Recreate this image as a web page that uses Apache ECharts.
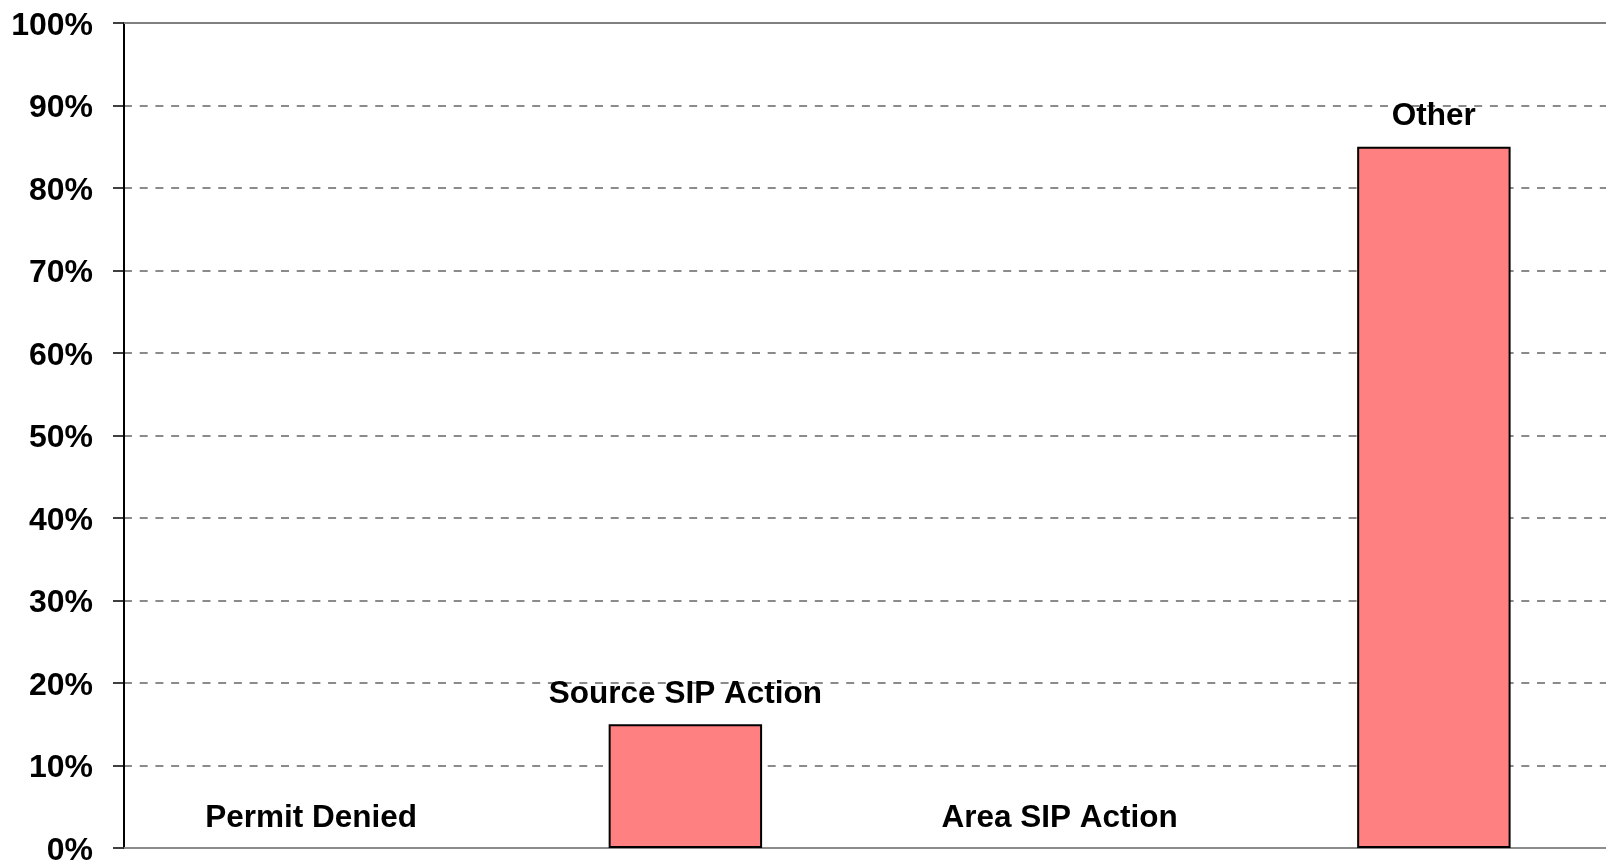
<!DOCTYPE html>
<html>
<head>
<meta charset="utf-8">
<script src="https://cdn.jsdelivr.net/npm/echarts@6/dist/echarts.min.js"></script>
<style>
  html, body { margin: 0; padding: 0; background: #fff; }
  #chart { width: 1606px; height: 863px; }
</style>
</head>
<body>
<div id="chart"></div>
<script>
// categories and share values (percent)
var categories = ['Permit Denied', 'Source SIP Action', 'Area SIP Action', 'Other'];
var shares = [0, 15, 0, 85];
var yTicks = [0, 10, 20, 30, 40, 50, 60, 70, 80, 90, 100];

var chartDom = document.getElementById('chart');
var myChart = echarts.init(chartDom, null, { renderer: 'canvas' });

var font = 'Arial, "Liberation Sans", sans-serif';

// empty bars get no outline, like the original
var barData = shares.map(function (v) {
    return { value: v, itemStyle: { borderWidth: v ? 2 : 0 } };
});

var option = {
    animation: false,
    grid: {
        left: 124,
        right: -15,
        top: 23,
        bottom: 15,
        containLabel: false,
        outerBoundsMode: 'none'
    },
    xAxis: [
        {
            type: 'category',
            data: categories,
            axisLine: { show: true, lineStyle: { color: '#8c8c8c', width: 2 } },
            axisTick: { show: false },
            axisLabel: { show: false },
            splitLine: { show: false }
        },
        {
            // top border of the plot (the 100% line is solid)
            type: 'category',
            position: 'top',
            data: categories,
            axisLine: { show: true, lineStyle: { color: '#808080', width: 2 } },
            axisTick: { show: false },
            axisLabel: { show: false }
        }
    ],
    yAxis: {
        type: 'value',
        min: yTicks[0],
        max: yTicks[yTicks.length - 1],
        interval: 10,
        axisLine: { show: true, lineStyle: { color: '#000', width: 2 } },
        axisTick: { show: true, length: 11, lineStyle: { color: '#000', width: 1.5 } },
        axisLabel: {
            margin: 31,
            formatter: '{p|{value}%}',
            rich: {
                p: {
                    color: '#000',
                    fontFamily: font,
                    fontWeight: 'bold',
                    fontSize: 32,
                    padding: [6, 0, 0, 0]
                }
            }
        },
        splitLine: {
            show: true,
            lineStyle: { color: '#666', width: 1.5, type: [8, 7.7] }
        }
    },
    series: [
        {
            type: 'bar',
            data: barData,
            barWidth: '41%',
            itemStyle: {
                color: '#FF8080',
                borderColor: '#000',
                borderWidth: 2
            },
            label: {
                show: true,
                position: 'top',
                distance: 14,
                formatter: '{b}',
                color: '#000',
                fontFamily: font,
                fontWeight: 'bold',
                fontSize: 31.5
            }
        }
    ]
};

option && myChart.setOption(option);
</script>
</body>
</html>
